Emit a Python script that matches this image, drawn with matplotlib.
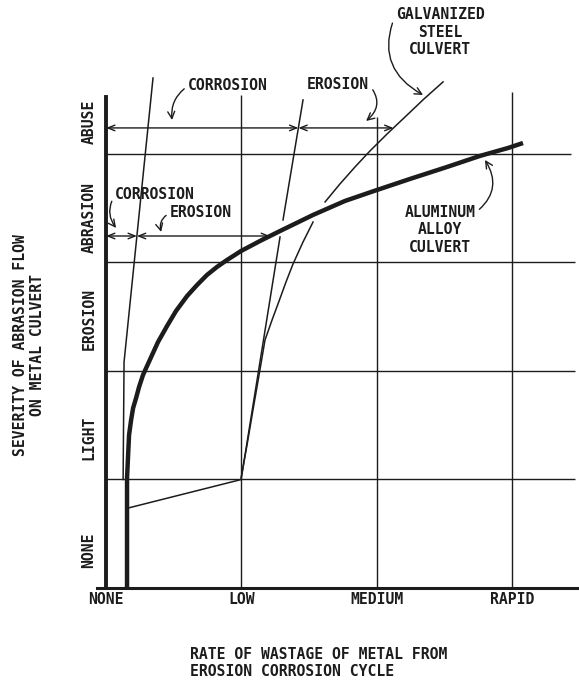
import numpy as np
import matplotlib
matplotlib.use('Agg')
import matplotlib.pyplot as plt

# axis categories
rate_labels = ['NONE', 'LOW', 'MEDIUM', 'RAPID']
rate_ticks = [0, 1, 2, 3]
severity_labels = ['NONE', 'LIGHT', 'EROSION', 'ABRASION', 'ABUSE']
severity_label_pos = [0.35, 1.38, 2.48, 3.41, 4.30]

# grid (band limits)
severity_bounds = [1, 2, 3, 4]
severity_grid_end = [3.47, 3.47, 3.47, 3.44]
rate_grid = [1, 2, 3]
rate_grid_top = [4.54, 4.34, 4.57]

# aluminum alloy culvert (thick curve)
alum_rate = [0.155, 0.155, 0.163, 0.170, 0.185, 0.200, 0.222, 0.244, 0.273, 0.303,
             0.340, 0.384, 0.451, 0.517, 0.599, 0.673, 0.746, 0.820, 0.894, 0.998,
             1.138, 1.286, 1.530, 1.766, 1.981, 2.247, 2.520, 2.764, 2.971, 3.082]
alum_sev = [0.0, 1.014, 1.226, 1.410, 1.548, 1.659, 1.751, 1.853, 1.963, 2.046,
            2.147, 2.267, 2.415, 2.553, 2.691, 2.793, 2.885, 2.959, 3.023, 3.106,
            3.198, 3.290, 3.438, 3.567, 3.659, 3.770, 3.880, 3.982, 4.055, 4.101]

# galvanized steel culvert (broken where it crosses the aluminum curve)
galv_rate_lo = [0.998, 1.042, 1.086, 1.131, 1.175, 1.227, 1.279, 1.330, 1.382, 1.456, 1.530]
galv_sev_lo = [1.014, 1.318, 1.641, 1.963, 2.286, 2.470, 2.645, 2.820, 2.986, 3.189, 3.373]
galv_rate_hi = [1.619, 1.729, 1.840, 1.951, 2.077, 2.210, 2.350, 2.491]
galv_sev_hi = [3.558, 3.724, 3.880, 4.028, 4.184, 4.341, 4.507, 4.664]

# corrosion limit lines
corr_al_rate = [0.126, 0.133, 0.347]
corr_al_sev = [1.0, 2.083, 4.700]
corr_st_rate_lo = [1.0, 1.286]
corr_st_sev_lo = [1.014, 3.235]
corr_st_rate_hi = [1.308, 1.456]
corr_st_sev_hi = [3.392, 4.498]
link_rate = [0.163, 1.0]
link_sev = [0.737, 1.0]

# dimension rows
abuse_row = 4.24
abrasion_row = 3.244

ink = '#1c1c1c'
plt.rcParams['font.family'] = 'DejaVu Sans Mono'
plt.rcParams['font.weight'] = 'bold'
plt.rcParams['font.size'] = 10.6
plt.rcParams['text.color'] = ink

fig = plt.figure(figsize=(5.79, 6.81), dpi=100)
ax = fig.add_axes([97 / 579, 93 / 681, 482 / 579, 588 / 681])
ax.set_xlim(-0.067, 3.496)
ax.set_ylim(0, 5.419)

for s in ['top', 'right']:
    ax.spines[s].set_visible(False)
ax.spines['left'].set_position(('data', 0))
ax.spines['left'].set_bounds(0, 4.525)
ax.spines['left'].set_linewidth(2.8)
ax.spines['bottom'].set_linewidth(2.2)
ax.spines['left'].set_color(ink)
ax.spines['bottom'].set_color(ink)

ax.set_xticks(rate_ticks, rate_labels)
ax.set_yticks(severity_label_pos, severity_labels, rotation=90, va='center')
ax.tick_params(axis='x', length=0, pad=3, labelcolor=ink)
ax.tick_params(axis='y', length=0, pad=7, labelcolor=ink)

# grid
ax.hlines(severity_bounds, 0, severity_grid_end, color=ink, lw=1.0)
ax.vlines(rate_grid, 0, rate_grid_top, color=ink, lw=1.0)

# limit lines
ax.plot(corr_al_rate, corr_al_sev, color=ink, lw=1.1)
ax.plot(corr_st_rate_lo, corr_st_sev_lo, color=ink, lw=1.1)
ax.plot(corr_st_rate_hi, corr_st_sev_hi, color=ink, lw=1.1)
ax.plot(link_rate, link_sev, color=ink, lw=1.1)

# culverts
ax.plot(galv_rate_lo, galv_sev_lo, color=ink, lw=1.1, solid_joinstyle='round')
ax.plot(galv_rate_hi, galv_sev_hi, color=ink, lw=1.1, solid_joinstyle='round')
ax.plot(alum_rate, alum_sev, color=ink, lw=3.2, solid_capstyle='butt',
        solid_joinstyle='round', zorder=5)

# dimension arrows
dim = dict(arrowstyle='<->,head_length=0.5,head_width=0.2', color=ink, lw=1.0,
           shrinkA=0, shrinkB=0, mutation_scale=10)
st_x = np.interp(abuse_row, corr_st_sev_lo + corr_st_sev_hi, corr_st_rate_lo + corr_st_rate_hi)
gv_x = np.interp(abuse_row, galv_sev_lo + galv_sev_hi, galv_rate_lo + galv_rate_hi)
ax.annotate('', xy=(st_x, abuse_row), xytext=(0, abuse_row), arrowprops=dim)
ax.annotate('', xy=(gv_x, abuse_row), xytext=(st_x, abuse_row), arrowprops=dim)
al_x = np.interp(abrasion_row, corr_al_sev, corr_al_rate)
alc_x = np.interp(abrasion_row, alum_sev, alum_rate)
ax.annotate('', xy=(al_x, abrasion_row), xytext=(0, abrasion_row), arrowprops=dim)
ax.annotate('', xy=(alc_x, abrasion_row), xytext=(al_x, abrasion_row), arrowprops=dim)

# leaders
def leader(text, tip, pos, rad, relpos, ha='left'):
    ax.annotate(text, xy=tip, xytext=pos, ha=ha, va='center', multialignment='center',
                linespacing=1.2, annotation_clip=False,
                arrowprops=dict(arrowstyle='->,head_length=0.5,head_width=0.25',
                                color=ink, lw=1.0, mutation_scale=10,
                                connectionstyle='arc3,rad=%s' % rad, relpos=relpos,
                                shrinkA=1, shrinkB=0))

leader('CORROSION', (0.488, 4.313), (0.606, 4.627), 0.3, (0, 0.5))
leader('EROSION', (1.922, 4.304), (1.486, 4.636), -0.5, (1, 0.5))
leader('GALVANIZED\nSTEEL\nCULVERT', (2.343, 4.544), (2.469, 5.124), 0.45, (0, 0.85), ha='center')
leader('ALUMINUM\nALLOY\nCULVERT', (2.801, 3.945), (2.469, 3.300), 0.45, (1, 0.85), ha='center')
leader('CORROSION', (0.074, 3.318), (0.067, 3.622), 0.35, (0, 0.5))
leader('EROSION', (0.407, 3.281), (0.473, 3.456), 0.4, (0, 0.5))

# axis titles
fig.text(29 / 579, 1 - 345 / 681, 'SEVERITY OF ABRASION FLOW\nON METAL CULVERT',
         rotation=90, ha='center', va='center', multialignment='center')
fig.text(190 / 579, 1 - 663 / 681, 'RATE OF WASTAGE OF METAL FROM\nEROSION CORROSION CYCLE',
         ha='left', va='center', multialignment='left')

fig.savefig('out.png', dpi=100, facecolor='white')
